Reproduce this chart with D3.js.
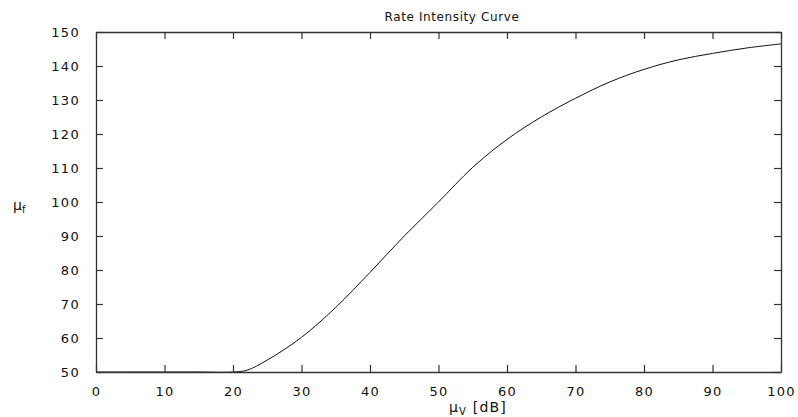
<!DOCTYPE html>
<html><head><meta charset="utf-8">
<script src="https://cdn.jsdelivr.net/npm/d3@7"></script>
<style>
html,body{margin:0;padding:0;background:#fff;}
svg text{font-family:"DejaVu Sans",sans-serif;fill:#111;}
</style></head>
<body><svg id="c" width="798" height="417"></svg>
<script>
const title = "Rate Intensity Curve";
const xTicks = [0,10,20,30,40,50,60,70,80,90,100];
const yTicks = [50,60,70,80,90,100,110,120,130,140,150];
const intensity = [0,5,10,15,20,22,25,30,35,40,45,50,55,60,65,70,75,80,85,90,95,100];
const rate = [50,50,50,50,50,50.5,53.5,60.2,69,79.3,90,100,110.2,118.4,125,130.5,135.3,139,141.8,143.7,145.3,146.5];

const L=96,R=781,T=32,B=372;
const svg=d3.select("#c");
const x=d3.scaleLinear().domain([0,100]).range([L,R]);
const y=d3.scaleLinear().domain([50,150]).range([B,T]);
const tk=7;

// curve
const pts=intensity.map((d,i)=>[d,rate[i]]);
svg.append("path").datum(pts)
  .attr("fill","none").attr("stroke","#111").attr("stroke-width",1)
  .attr("d",d3.line().x(d=>x(d[0])).y(d=>y(d[1])).curve(d3.curveCatmullRom.alpha(0.5)));

// axes with inward ticks
const axB=d3.axisBottom(x).tickValues(xTicks).tickSizeInner(-tk).tickSizeOuter(0).tickPadding(8+tk);
const axT=d3.axisTop(x).tickValues(xTicks).tickSizeInner(-tk).tickSizeOuter(0).tickFormat("");
const axL=d3.axisLeft(y).tickValues(yTicks).tickSizeInner(-tk).tickSizeOuter(0).tickPadding(9+tk);
const axR=d3.axisRight(y).tickValues(yTicks).tickSizeInner(-tk).tickSizeOuter(0).tickFormat("");
function style(g){
  g.selectAll("path").attr("stroke","#333").attr("stroke-width",1.3);
  g.selectAll("line").attr("stroke","#333").attr("stroke-width",1.2);
  g.selectAll("text").style("font-size","13px").style("letter-spacing","1.3px").attr("fill","#111");
  g.attr("font-family",null);
}
svg.append("g").attr("transform",`translate(0,${B})`).call(axB).call(style);
svg.append("g").attr("transform",`translate(0,${T})`).call(axT).call(style);
svg.append("g").attr("transform",`translate(${L},0)`).call(axL).call(style);
svg.append("g").attr("transform",`translate(${R},0)`).call(axR).call(style);

// title
svg.append("text").attr("x",452).attr("y",21).attr("text-anchor","middle")
  .style("font-size","12px").style("letter-spacing","0.6px").text(title);

// x label
const xl=svg.append("text").attr("x",449).attr("y",412).style("font-size","14px").style("letter-spacing","1.2px");
xl.append("tspan").text("μ");
xl.append("tspan").attr("dy",3).style("font-size","10px").text("V");
xl.append("tspan").attr("dy",-3).text(" [dB]");

// y label
const yl=svg.append("text").attr("x",13).attr("y",210).style("font-size","14px");
yl.append("tspan").text("μ");
yl.append("tspan").attr("dy",3).style("font-size","10px").text("f");
</script></body></html>
